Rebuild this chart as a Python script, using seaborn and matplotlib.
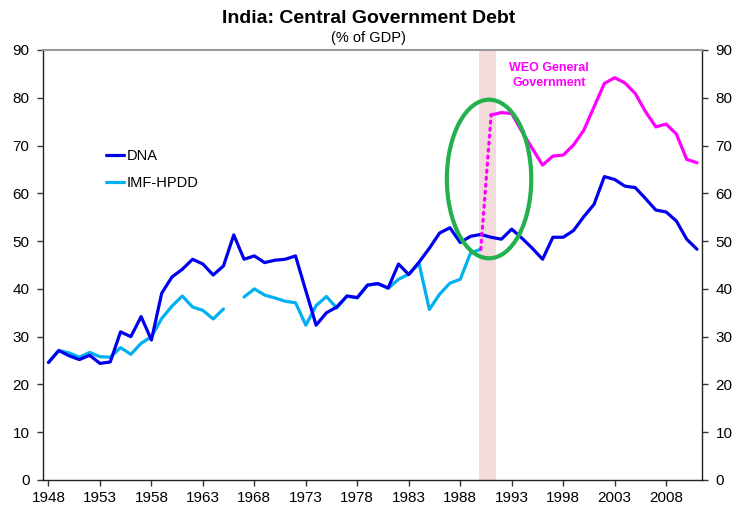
import numpy as np
import pandas as pd
import matplotlib
matplotlib.use("Agg")
import matplotlib.pyplot as plt
import seaborn as sns
from matplotlib.patches import Ellipse
from matplotlib.lines import Line2D

# data (% of GDP)
years_dna = list(range(1948, 2012))
dna = [24.6, 27.1, 26.0, 25.2, 26.1, 24.4, 24.7, 31.0, 30.0, 34.2,
       29.3, 39.1, 42.5, 44.1, 46.2, 45.2, 42.9, 44.8, 51.3, 46.2,
       46.9, 45.5, 46.0, 46.2, 46.9, 39.6, 32.4, 35.0, 36.2, 38.5,
       38.2, 40.8, 41.1, 40.2, 45.2, 43.0, 45.6, 48.5, 51.7, 52.8,
       49.7, 51.0, 51.4, 50.8, 50.4, 52.5, 50.6, 48.5, 46.2, 50.8,
       50.8, 52.2, 55.1, 57.7, 63.5, 62.9, 61.5, 61.2, 58.9, 56.5,
       56.1, 54.2, 50.4, 48.3]

years_imf = list(range(1948, 1991))
imf = [24.6, 27.1, 26.6, 25.7, 26.7, 25.8, 25.7, 27.7, 26.3, 28.6,
       30.0, 33.8, 36.4, 38.5, 36.2, 35.5, 33.7, 35.8, np.nan, 38.3,
       40.0, 38.7, 38.1, 37.4, 37.1, 32.4, 36.5, 38.4, 36.0, 38.5,
       38.1, 40.8, 41.1, 40.1, 42.0, 43.1, 45.3, 35.7, 38.9, 41.2,
       42.0, 47.5, 48.3]

years_weo = list(range(1991, 2012))
weo = [76.4, 76.9, 76.7, 72.9, 69.4, 65.9, 67.8, 68.0, 70.1, 73.2,
       78.1, 83.0, 84.2, 83.1, 80.9, 77.1, 73.9, 74.5, 72.4, 67.1, 66.4]

xticks = list(range(1948, 2012, 5))
yticks = list(range(0, 91, 10))

DNA_COL = "#0000ee"
IMF_COL = "#00b0f0"
WEO_COL = "#ff00ff"

sns.set_style("white")
plt.rcParams["font.family"] = ["Liberation Sans", "DejaVu Sans"]
plt.rcParams["text.color"] = "black"
plt.rcParams["xtick.color"] = "black"
plt.rcParams["ytick.color"] = "black"

fig = plt.figure(figsize=(7.37, 5.09), dpi=100)
ax = fig.add_axes([0.0588, 0.057, 0.8932, 0.8448])

# shaded 1991 crisis band
ax.axvspan(1989.8, 1991.45, color="#f2dcdb", lw=0, zorder=0)

df_dna = pd.DataFrame({"year": years_dna, "value": dna})
df_imf = pd.DataFrame({"year": years_imf, "value": imf})
# split IMF series at the missing year so the gap stays
df_imf["seg"] = np.cumsum(df_imf["value"].isna())
df_imf = df_imf.dropna()
df_weo = pd.DataFrame({"year": years_weo, "value": weo})

sns.lineplot(data=df_imf, x="year", y="value", units="seg", estimator=None,
             color=IMF_COL, lw=2.3, ax=ax, legend=False, zorder=3)
sns.lineplot(data=df_dna, x="year", y="value", color=DNA_COL, lw=2.3,
             ax=ax, legend=False, zorder=4)
sns.lineplot(data=df_weo, x="year", y="value", color=WEO_COL, lw=2.3,
             ax=ax, legend=False, zorder=4)
# dotted link from IMF end to WEO start
ax.plot([years_imf[-1], years_weo[0]], [imf[-1], weo[0]], color=WEO_COL,
        lw=2.3, ls=(0, (0.6, 1.6)), dash_capstyle="round", zorder=4)

ax.add_patch(Ellipse((1990.8, 63.0), 8.2, 33.2, fill=False,
                     ec="#22b14c", lw=3, zorder=5))

ax.text(1996.6, 84.7, "WEO General\nGovernment", color=WEO_COL, fontsize=9,
        fontweight="bold", ha="center", va="center", linespacing=1.3)

ax.set_xlim(1947.5, 2011.45)
ax.set_ylim(0, 90)
ax.set_xticks(xticks)
ax.set_yticks(yticks)
ax.set_xlabel("")
ax.set_ylabel("")
ax.tick_params(axis="both", labelsize=11, length=4, width=1, color="#333333",
               direction="out")
ax.tick_params(axis="y", left=True, right=True, labelleft=True, labelright=True,
               pad=6)
ax.tick_params(axis="x", bottom=True, pad=4)

for s in ["left", "right", "bottom"]:
    ax.spines[s].set_color("#222222")
    ax.spines[s].set_linewidth(1)
ax.spines["top"].set_color("#999999")
ax.spines["top"].set_linewidth(1.5)

handles = [Line2D([], [], color=DNA_COL, lw=2.3),
           Line2D([], [], color=IMF_COL, lw=2.3)]
ax.legend(handles, ["DNA", "IMF-HPDD"], loc="upper left",
          bbox_to_anchor=(0.075, 0.80), frameon=False, fontsize=10.5,
          handlelength=1.25, handletextpad=0.2, labelspacing=0.9)

fig.text(0.5, 0.963, "India: Central Government Debt", ha="center", va="center",
         fontsize=14, fontweight="bold")
fig.text(0.5, 0.926, "(% of GDP)", ha="center", va="center", fontsize=10.5)

fig.savefig("out.png", dpi=100)
